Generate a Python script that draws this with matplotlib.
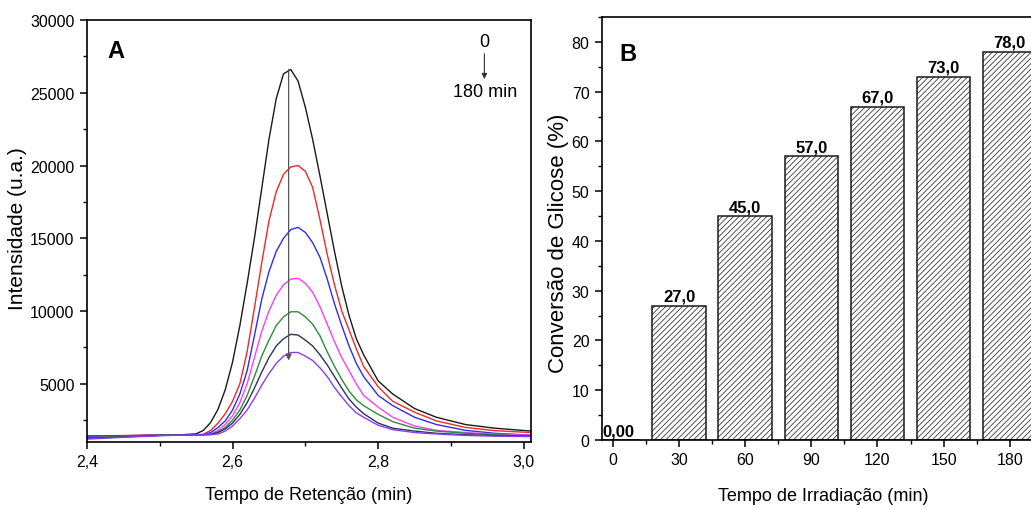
import matplotlib
matplotlib.use("Agg")
import matplotlib.pyplot as plt
from matplotlib.ticker import MultipleLocator

# ---- panel A: chromatograms (retention time in min, intensity in a.u.)
t_ret = [2.40, 2.45, 2.50, 2.53, 2.55, 2.56, 2.57, 2.58, 2.59, 2.60, 2.61, 2.62,
         2.63, 2.64, 2.65, 2.66, 2.67, 2.68, 2.69, 2.70, 2.71, 2.72, 2.73, 2.74,
         2.75, 2.76, 2.77, 2.78, 2.80, 2.82, 2.85, 2.88, 2.92, 2.96, 3.01]
int_0 = [1420, 1440, 1480, 1500, 1560, 1800, 2350, 3250, 4600, 6500, 9000, 11900,
         15000, 18400, 21800, 24600, 26300, 26600, 25800, 24000, 21800, 19300, 16700, 14100,
         11700, 9700, 8100, 7000, 5200, 4300, 3300, 2700, 2200, 1950, 1750]
int_30 = [1400, 1430, 1480, 1500, 1500, 1530, 1800, 2300, 2950, 3800, 5000, 7200,
          10200, 13300, 16200, 18200, 19400, 19900, 20000, 19600, 18500, 16300, 13900, 11800,
          10000, 8700, 7400, 6200, 4800, 3800, 3050, 2450, 2000, 1780, 1650]
int_60 = [1350, 1400, 1470, 1500, 1500, 1510, 1650, 2000, 2450, 3200, 4300, 5900,
          8300, 10800, 12700, 14100, 15000, 15600, 15750, 15400, 14700, 13700, 12200, 10500,
          9000, 7600, 6400, 5500, 4200, 3500, 2700, 2200, 1800, 1600, 1470]
int_90 = [1300, 1380, 1460, 1500, 1500, 1500, 1550, 1800, 2200, 2800, 3700, 5000,
          6800, 8600, 10000, 11080, 11800, 12200, 12250, 11900, 11300, 10300, 9100, 7900,
          6800, 5900, 5000, 4200, 3400, 2700, 2100, 1800, 1650, 1550, 1470]
int_120 = [1300, 1380, 1460, 1500, 1500, 1500, 1530, 1700, 2000, 2500, 3200, 4200,
           5500, 6900, 8000, 9000, 9600, 9950, 9950, 9600, 9100, 8300, 7200, 6200,
           5300, 4500, 3900, 3500, 2900, 2400, 1950, 1750, 1600, 1500, 1420]
int_150 = [1250, 1350, 1450, 1480, 1500, 1500, 1520, 1650, 1900, 2300, 2900, 3700,
           4700, 5800, 6800, 7600, 8100, 8400, 8350, 8000, 7600, 7000, 6300, 5500,
           4700, 3950, 3400, 2950, 2300, 1950, 1750, 1600, 1500, 1450, 1400]
int_180 = [1200, 1320, 1430, 1480, 1500, 1500, 1500, 1550, 1750, 2100, 2600, 3200,
           4000, 4900, 5700, 6400, 6900, 7150, 7150, 6900, 6600, 6100, 5500, 4750,
           4100, 3500, 3000, 2700, 2150, 1850, 1650, 1550, 1450, 1400, 1370]
curves = [int_0, int_30, int_60, int_90, int_120, int_150, int_180]
curve_colors = ["#1a1a1a", "#f02828", "#2d2df0", "#ff3cff", "#2e8b3e", "#30305e", "#8a3cf5"]
a_xticks = [2.4, 2.6, 2.8, 3.0]
a_xticklabels = ["2,4", "2,6", "2,8", "3,0"]

# ---- panel B: glucose conversion
irr_time = [0, 30, 60, 90, 120, 150, 180]
conversion = [0, 27, 45, 57, 67, 73, 78]
conv_labels = ["0,00", "27,0", "45,0", "57,0", "67,0", "73,0", "78,0"]

plt.rcParams["font.family"] = ["Liberation Sans", "DejaVu Sans"]
plt.rcParams["hatch.linewidth"] = 0.6
plt.rcParams["axes.linewidth"] = 1.2

fig = plt.figure(figsize=(10.31, 5.10), dpi=100)
axA = fig.add_axes([87 / 1031, 67 / 510, 444 / 1031, 422 / 510])
axB = fig.add_axes([602 / 1031, 69 / 510, 443 / 1031, 423 / 510])

for ax in (axA, axB):
    ax.tick_params(which="major", direction="out", length=5, width=1.1, labelsize=11.5, pad=4)
    ax.tick_params(which="minor", direction="out", length=3, width=1.0)
    ax.tick_params(top=False, right=False)

# panel A
for y, c in zip(curves, curve_colors):
    axA.plot(t_ret, y, color=c, lw=1.0)
axA.set_xlim(2.4, 3.01)
axA.set_ylim(1000, 30000)
axA.set_xticks(a_xticks)
axA.set_xticklabels(a_xticklabels)
axA.xaxis.set_minor_locator(MultipleLocator(0.1))
axA.yaxis.set_major_locator(MultipleLocator(5000))
axA.yaxis.set_minor_locator(MultipleLocator(2500))
axA.set_xlabel("Tempo de Retenção (min)", fontsize=13, labelpad=12)
axA.set_ylabel("Intensidade (u.a.)", fontsize=15)
axA.yaxis.set_label_coords(-0.135, 0.507)
axA.text(0.047, 0.955, "A", transform=axA.transAxes, fontsize=17, fontweight="bold",
         va="top", ha="left")
axA.annotate("", xy=(2.677, 6600), xytext=(2.677, 26600),
             arrowprops=dict(arrowstyle="-|>", color="#555555", lw=0.9,
                             mutation_scale=9, shrinkA=0, shrinkB=0))
axA.text(0.895, 0.95, "0", transform=axA.transAxes, fontsize=13, ha="center", va="center")
axA.annotate("", xy=(0.895, 0.86), xytext=(0.895, 0.92), xycoords="axes fraction",
             arrowprops=dict(arrowstyle="-|>", color="#333333", lw=0.8,
                             mutation_scale=8, shrinkA=0, shrinkB=0))
axA.text(0.897, 0.83, "180 min", transform=axA.transAxes, fontsize=13, ha="center", va="center")

# panel B
axB.bar(irr_time, conversion, width=24.3, color="white", edgecolor="#3a3a3a",
        hatch="//////", lw=0)
axB.bar(irr_time, conversion, width=24.3, fill=False, edgecolor="#1a1a1a", lw=1.1)
for x, v, s in zip(irr_time, conversion, conv_labels):
    axB.text(x + (2.5 if v == 0 else 0), v + 0.4, s, ha="center", va="bottom",
             fontsize=12, fontweight="bold")
axB.set_xlim(-5, 196)
axB.set_ylim(0, 85)
axB.set_xticks(irr_time)
axB.xaxis.set_minor_locator(MultipleLocator(15))
axB.yaxis.set_major_locator(MultipleLocator(10))
axB.yaxis.set_minor_locator(MultipleLocator(5))
axB.set_xlabel("Tempo de Irradiação (min)", fontsize=13, labelpad=14)
axB.set_ylabel("Conversão de Glicose (%)", fontsize=16)
axB.yaxis.set_label_coords(-0.075, 0.468)
axB.text(0.04, 0.94, "B", transform=axB.transAxes, fontsize=17, fontweight="bold",
         va="top", ha="left")

fig.savefig("out.png", dpi=100)
